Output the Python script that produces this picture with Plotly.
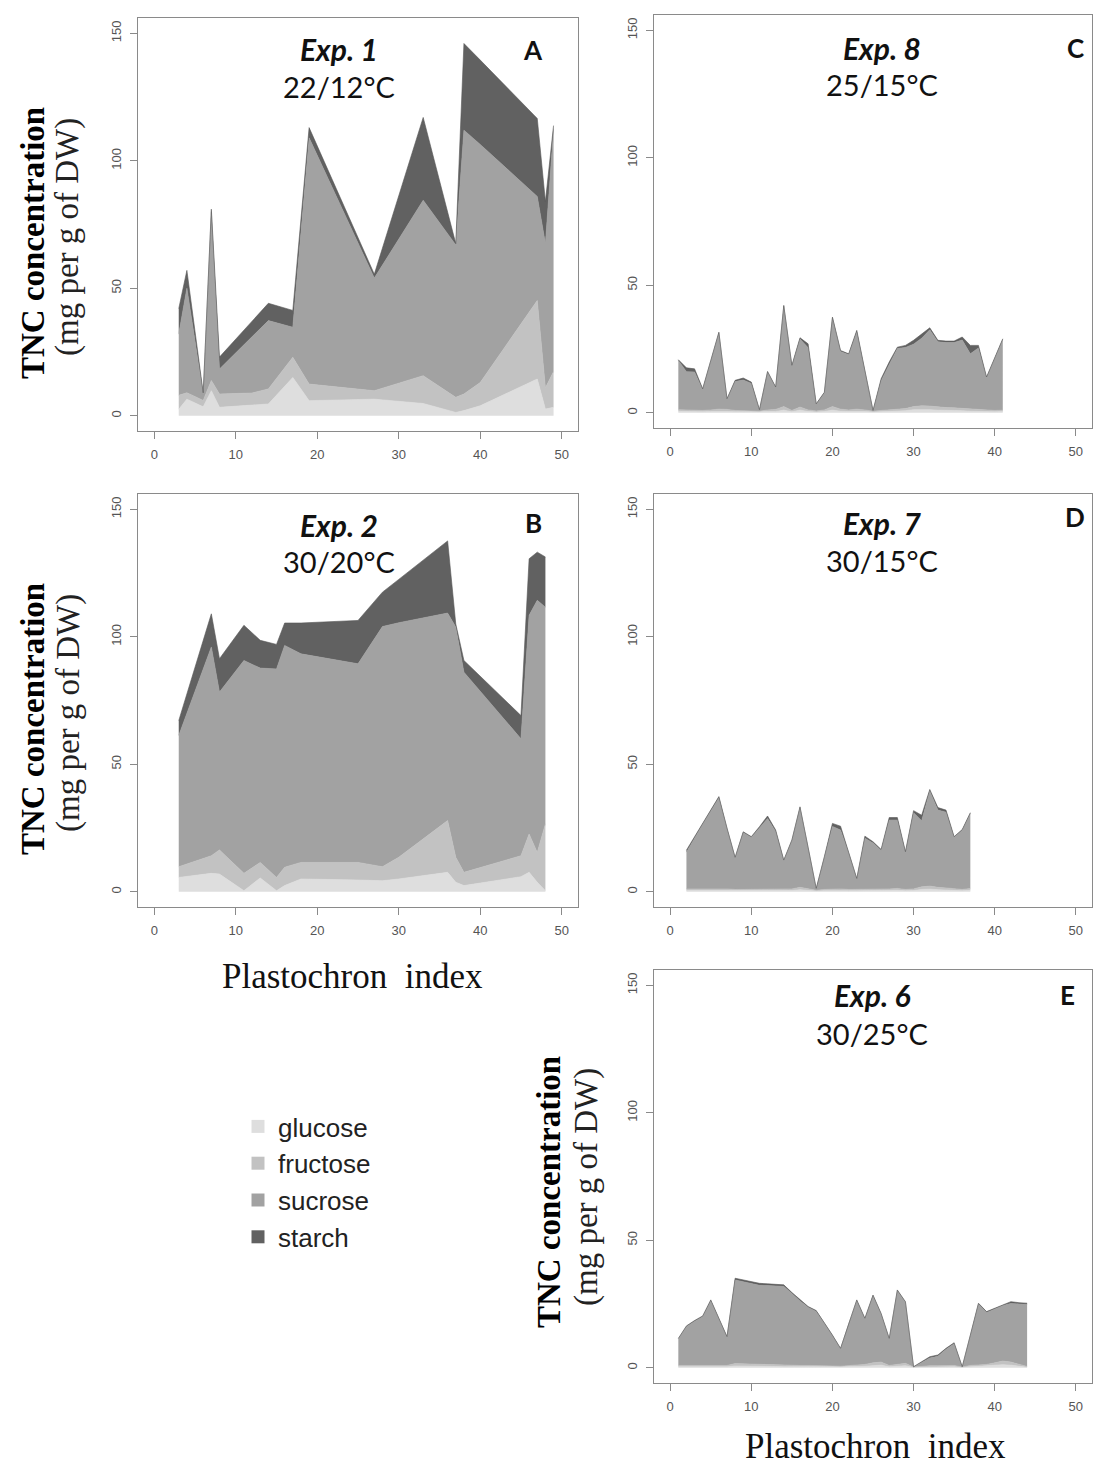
import plotly.graph_objects as go

W, H = 1093, 1468

# ---------------- data ----------------
components = ["glucose", "fructose", "sucrose", "starch"]
colors = {"glucose": "#dedede", "fructose": "#c2c2c2", "sucrose": "#a2a2a2", "starch": "#616161"}

# Panel A : Exp. 1, 22/12°C
A_x = [3, 4, 6, 7, 8, 12, 14, 17, 19, 27, 33, 37, 38, 40, 47, 48, 49]
A_glucose = [2.5, 6.5, 3.5, 9.8, 3.3, 4.3, 4.6, 15.0, 5.9, 6.5, 4.8, 1.3, 2.0, 3.9, 14.4, 2.6, 3.3]
A_fructose = [5.5, 2.5, 2.5, 4.0, 5.2, 4.6, 5.9, 7.9, 6.5, 3.3, 10.9, 5.9, 6.5, 9.1, 30.8, 8.4, 14.0]
A_sucrose = [24.0, 41.0, 2.5, 66.2, 9.8, 22.1, 26.8, 11.8, 96.6, 44.2, 68.8, 59.8, 103.5, 93.4, 40.8, 56.5, 95.0]
A_starch = [10.0, 7.0, 0.5, 1.0, 4.7, 6.0, 6.8, 6.6, 4.0, 1.5, 32.5, 0.5, 34.0, 33.1, 30.6, 16.5, 1.5]

# Panel B : Exp. 2, 30/20°C
B_x = [3, 7, 8, 11, 13, 15, 16, 18, 25, 28, 30, 36, 37, 38, 45, 46, 47, 48]
B_glucose = [5.6, 7.2, 6.9, 0.4, 5.4, 0.4, 2.4, 5.0, 4.6, 4.3, 5.0, 7.6, 3.7, 2.4, 5.9, 7.6, 3.7, 0.4]
B_fructose = [4.2, 6.9, 9.5, 6.8, 6.1, 5.2, 7.2, 6.5, 6.9, 5.5, 8.5, 20.3, 9.8, 5.2, 8.2, 15.0, 11.7, 26.2]
B_sucrose = [51.5, 81.9, 61.9, 83.5, 76.2, 81.8, 87.0, 81.8, 77.9, 94.2, 92.0, 81.4, 90.3, 78.5, 45.9, 85.8, 98.9, 85.0]
B_starch = [5.8, 13.0, 13.1, 13.8, 10.9, 9.6, 8.8, 12.1, 17.0, 13.5, 17.0, 28.3, 1.2, 4.6, 9.1, 22.2, 18.9, 19.7]

# Panel C : Exp. 8, 25/15°C
C_x = [1, 2, 3, 4, 5, 6, 7, 8, 9, 10, 11, 12, 13, 14, 15, 16, 17, 18, 19, 20, 21,
       22, 23, 24, 25, 26, 27, 28, 29, 30, 31, 32, 33, 34, 35, 36, 37, 38, 39, 40, 41]
C_glucose = [0.6, 0.5, 0.5, 0.4, 0.5, 0.6, 0.5, 0.4, 0.4, 0.4, 0.3, 0.5, 0.5, 1.0, 0.4, 1.0, 0.5, 0.3, 0.5, 1.0, 0.6,
             0.5, 0.6, 0.5, 0.3, 0.4, 0.5, 0.6, 0.8, 1.2, 1.3, 1.2, 1.0, 1.0, 0.9, 0.8, 0.6, 0.5, 0.4, 0.4, 0.5]
C_fructose = [0.6, 0.6, 0.6, 0.5, 0.6, 0.8, 0.8, 0.5, 0.4, 0.4, 0.3, 0.6, 0.8, 1.4, 0.5, 1.2, 0.6, 0.4, 0.6, 1.4, 0.8,
              0.6, 0.8, 0.6, 0.3, 0.5, 0.6, 0.7, 0.8, 1.2, 1.4, 1.4, 1.2, 1.0, 1.0, 0.9, 0.8, 0.6, 0.5, 0.5, 0.5]
C_sucrose = [19.3, 15.0, 14.9, 8.2, 19.2, 29.9, 4.0, 11.3, 12.0, 10.7, 0.5, 14.8, 8.5, 39.4, 17.4, 26.7, 24.4, 2.6, 6.6, 34.8, 22.6,
             21.7, 30.3, 15.0, 0.2, 11.6, 18.0, 23.9, 24.0, 24.5, 26.5, 29.9, 25.6, 25.5, 25.6, 26.8, 21.7, 24.3, 12.8, 20.4, 27.7]
C_starch = [0.3, 1.5, 1.2, 0.3, 0.2, 0.3, 0.2, 0.5, 0.8, 0.5, 0.1, 0.3, 0.3, 0.3, 0.3, 0.5, 1.5, 0.2, 0.3, 0.3, 0.4,
            0.3, 0.6, 0.5, 0.1, 0.8, 0.8, 0.5, 0.8, 1.5, 1.8, 0.8, 0.6, 0.6, 0.6, 1.2, 3.3, 1.0, 0.3, 0.3, 0.3]

# Panel D : Exp. 7, 30/15°C
D_x = [2, 3, 4, 5, 6, 7, 8, 9, 10, 11, 12, 13, 14, 15, 16, 17, 18, 19,
       20, 21, 22, 23, 24, 25, 26, 27, 28, 29, 30, 31, 32, 33, 34, 35, 36, 37]
D_glucose = [0.5, 0.5, 0.5, 0.5, 0.6, 0.5, 0.4, 0.4, 0.5, 0.5, 0.5, 0.4, 0.4, 0.5, 0.8, 0.5, 0.3, 0.4,
             0.5, 0.5, 0.4, 0.4, 0.5, 0.5, 0.4, 0.5, 0.6, 0.4, 0.5, 0.9, 1.0, 0.8, 0.7, 0.5, 0.4, 0.6]
D_fructose = [0.6, 0.6, 0.6, 0.6, 0.7, 0.6, 0.5, 0.5, 0.6, 0.6, 0.6, 0.5, 0.5, 0.6, 0.9, 0.6, 0.3, 0.5,
              0.6, 0.6, 0.5, 0.5, 0.6, 0.6, 0.5, 0.6, 0.7, 0.5, 0.6, 1.0, 1.2, 0.9, 0.8, 0.6, 0.5, 0.7]
D_sucrose = [14.4, 20.2, 25.4, 30.6, 35.6, 23.6, 12.4, 22.3, 20.2, 23.9, 27.6, 22.7, 11.3, 19.0, 31.3, 16.1, 0.6, 12.5,
             24.5, 23.1, 14.3, 4.1, 19.9, 18.0, 15.3, 27.0, 26.8, 14.5, 29.9, 25.9, 37.4, 30.3, 29.7, 20.2, 23.2, 29.4]
D_starch = [0.8, 0.3, 0.3, 0.3, 0.4, 0.3, 0.2, 0.3, 0.3, 0.5, 1.0, 0.6, 0.2, 0.2, 0.3, 0.2, 0.1, 0.3,
            1.2, 1.5, 0.5, 0.2, 0.8, 0.5, 0.4, 1.0, 1.0, 0.3, 0.8, 2.2, 0.5, 1.0, 0.8, 0.3, 0.3, 0.3]

# Panel E : Exp. 6, 30/25°C
E_x = [1, 2, 3, 4, 5, 6, 7, 8, 9, 10, 11, 12, 13, 14, 15, 16, 17, 18, 19, 20, 21, 22,
       23, 24, 25, 26, 27, 28, 29, 30, 31, 32, 33, 34, 35, 36, 37, 38, 39, 40, 41, 42, 43, 44]
E_glucose = [0.4, 0.4, 0.4, 0.5, 0.5, 0.4, 0.4, 0.7, 0.7, 0.6, 0.6, 0.5, 0.5, 0.4, 0.4, 0.4, 0.4, 0.4, 0.4, 0.3, 0.3, 0.4,
             0.5, 0.6, 0.9, 1.0, 0.4, 0.6, 0.8, 0.2, 0.3, 0.4, 0.4, 0.4, 0.4, 0.2, 0.4, 0.5, 0.6, 0.9, 1.2, 1.0, 0.6, 0.2]
E_fructose = [0.5, 0.5, 0.5, 0.6, 0.6, 0.5, 0.5, 0.9, 0.8, 0.7, 0.7, 0.6, 0.6, 0.5, 0.5, 0.5, 0.5, 0.5, 0.4, 0.4, 0.3, 0.5,
              0.6, 0.7, 1.0, 1.2, 0.5, 0.7, 0.9, 0.1, 0.3, 0.4, 0.4, 0.5, 0.5, 0.1, 0.5, 0.6, 0.7, 1.0, 1.4, 1.2, 0.7, 0.3]
E_sucrose = [10.4, 15.2, 17.3, 18.9, 25.1, 18.3, 11.1, 32.8, 32.1, 31.7, 31.0, 31.1, 30.9, 31.0, 28.2, 25.3, 22.8, 21.2, 16.7, 11.9, 6.9, 16.3,
             25.2, 17.9, 26.3, 18.8, 10.4, 28.9, 23.9, 0.0, 1.6, 3.0, 3.7, 6.3, 8.5, 0.0, 11.7, 23.8, 20.4, 21.0, 21.8, 23.0, 23.6, 24.3]
E_starch = [0.2, 0.3, 0.3, 0.3, 0.4, 0.2, 0.2, 0.7, 0.8, 0.8, 0.8, 0.7, 0.7, 0.6, 0.4, 0.4, 0.3, 0.3, 0.2, 0.2, 0.1, 0.2,
            0.3, 0.2, 0.3, 0.3, 0.2, 0.3, 0.3, 0.1, 0.2, 0.5, 0.5, 0.4, 0.4, 0.1, 0.2, 0.4, 0.3, 0.4, 0.5, 0.7, 0.6, 0.5]

x_ticks = [0, 10, 20, 30, 40, 50]
y_ticks = [0, 50, 100, 150]

panels = [
    dict(key="A", exp="Exp. 1", temp="22/12°C", x=A_x,
         vals=dict(glucose=A_glucose, fructose=A_fructose, sucrose=A_sucrose, starch=A_starch)),
    dict(key="B", exp="Exp. 2", temp="30/20°C", x=B_x,
         vals=dict(glucose=B_glucose, fructose=B_fructose, sucrose=B_sucrose, starch=B_starch)),
    dict(key="C", exp="Exp. 8", temp="25/15°C", x=C_x,
         vals=dict(glucose=C_glucose, fructose=C_fructose, sucrose=C_sucrose, starch=C_starch)),
    dict(key="D", exp="Exp. 7", temp="30/15°C", x=D_x,
         vals=dict(glucose=D_glucose, fructose=D_fructose, sucrose=D_sucrose, starch=D_starch)),
    dict(key="E", exp="Exp. 6", temp="30/25°C", x=E_x,
         vals=dict(glucose=E_glucose, fructose=E_fructose, sucrose=E_sucrose, starch=E_starch)),
]

# ---------------- layout geometry (pixels) ----------------
def px(x):
    return x / W

def py(y):
    return 1 - y / H

# plot boxes: (left, right, top, bottom) in pixels
boxes = {
    "A": (138, 578, 18, 431),
    "B": (138, 578, 494, 907),
    "C": (654, 1092, 15, 428),
    "D": (654, 1092, 494, 907),
    "E": (654, 1092, 970, 1383),
}
# text anchors: (exp_x, exp_y, temp_y, letter_x, letter_y)
label_pos = {
    "A": (339, 49, 86, 533, 50),
    "B": (339, 525, 562, 533, 523),
    "C": (882, 48, 85, 1075, 48),
    "D": (882, 523, 560, 1075, 517),
    "E": (872, 995, 1033, 1067, 995),
}

fig = go.Figure()
layout = dict(
    width=W, height=H,
    margin=dict(l=0, r=0, t=0, b=0),
    paper_bgcolor="white", plot_bgcolor="white",
    showlegend=True,
)
annotations = []

text_font = "Lato, 'Open Sans', Carlito, sans-serif"
serif = "'Liberation Serif', 'Times New Roman', serif"

for i, p in enumerate(panels, start=1):
    k = p["key"]
    xa = "x" if i == 1 else f"x{i}"
    ya = "y" if i == 1 else f"y{i}"
    for comp in components:
        fig.add_trace(go.Scatter(
            x=p["x"], y=p["vals"][comp],
            mode="lines", stackgroup=f"s{k}",
            line=dict(width=0.6, color=colors[comp] if comp != "starch" else "#555555"),
            fillcolor=colors[comp],
            name=comp, showlegend=False, hoverinfo="x+y+name",
            xaxis=xa, yaxis=ya,
        ))
    l, r, t, b = boxes[k]
    axis_common = dict(
        showgrid=False, zeroline=False, showline=True, mirror=True,
        linecolor="#8a8a8a", linewidth=1.4,
        ticks="outside", ticklen=7, tickwidth=1, tickcolor="#8a8a8a",
        tickfont=dict(family="'Liberation Sans', Arial, sans-serif", size=13, color="#555555"),
    )
    layout["xaxis" if i == 1 else f"xaxis{i}"] = dict(
        axis_common, domain=[px(l), px(r)], range=[-2, 52],
        tickvals=x_ticks, ticktext=[str(v) for v in x_ticks],
        anchor=ya, ticklabelstandoff=4,
    )
    layout["yaxis" if i == 1 else f"yaxis{i}"] = dict(
        axis_common, domain=[py(b), py(t)], range=[-6, 156],
        tickvals=y_ticks, ticktext=[str(v) for v in y_ticks],
        anchor=xa, tickangle=-90, ticklabelstandoff=4,
    )
    ex, ey, ty, lx, ly = label_pos[k]
    annotations += [
        dict(x=px(ex), y=py(ey), xref="paper", yref="paper", showarrow=False,
             text=f"<b><i>{p['exp']}</i></b>", font=dict(family=text_font, size=30, color="#111111"),
             xanchor="center", yanchor="middle"),
        dict(x=px(ex), y=py(ty), xref="paper", yref="paper", showarrow=False,
             text=p["temp"], font=dict(family=text_font, size=29, color="#111111"),
             xanchor="center", yanchor="middle"),
        dict(x=px(lx), y=py(ly), xref="paper", yref="paper", showarrow=False,
             text=f"<b>{k}</b>", font=dict(family=text_font, size=26, color="#111111"),
             xanchor="center", yanchor="middle"),
    ]

# y-axis titles (left of panels A, B, E)
for (bx, by, rx, ry) in [(33, 243, 68, 237), (33, 719, 68, 713), (549, 1192, 586, 1187)]:
    annotations += [
        dict(x=px(bx), y=py(by), xref="paper", yref="paper", showarrow=False, textangle=-90,
             text="<b>TNC concentration</b>", font=dict(family=serif, size=33, color="#000000"),
             xanchor="center", yanchor="middle"),
        dict(x=px(rx), y=py(ry), xref="paper", yref="paper", showarrow=False, textangle=-90,
             text="(mg per g of DW)", font=dict(family=serif, size=33, color="#222222"),
             xanchor="center", yanchor="middle"),
    ]

# x-axis titles
for (tx, tyy) in [(352, 976), (875, 1446)]:
    annotations.append(dict(
        x=px(tx), y=py(tyy), xref="paper", yref="paper", showarrow=False,
        text="Plastochron\u00a0 index", font=dict(family=serif, size=35, color="#111111"),
        xanchor="center", yanchor="middle"))

# legend entries (square swatches)
for comp in components:
    fig.add_trace(go.Scatter(
        x=[None], y=[None], mode="markers", name=comp,
        marker=dict(symbol="square", size=13, color=colors[comp]),
        showlegend=True, hoverinfo="skip",
    ))

layout["legend"] = dict(
    x=px(238), y=py(1103), xanchor="left", yanchor="top", traceorder="normal",
    font=dict(family="'Liberation Sans', Arial, sans-serif", size=26, color="#222222"),
    bgcolor="rgba(0,0,0,0)", borderwidth=0, tracegroupgap=0, itemsizing="trace",
)
layout["annotations"] = annotations
fig.update_layout(**layout)

fig.write_html("out.html",
               config={"displayModeBar": False},
               post_script="document.body.style.margin='0';document.body.style.overflow='hidden';")
